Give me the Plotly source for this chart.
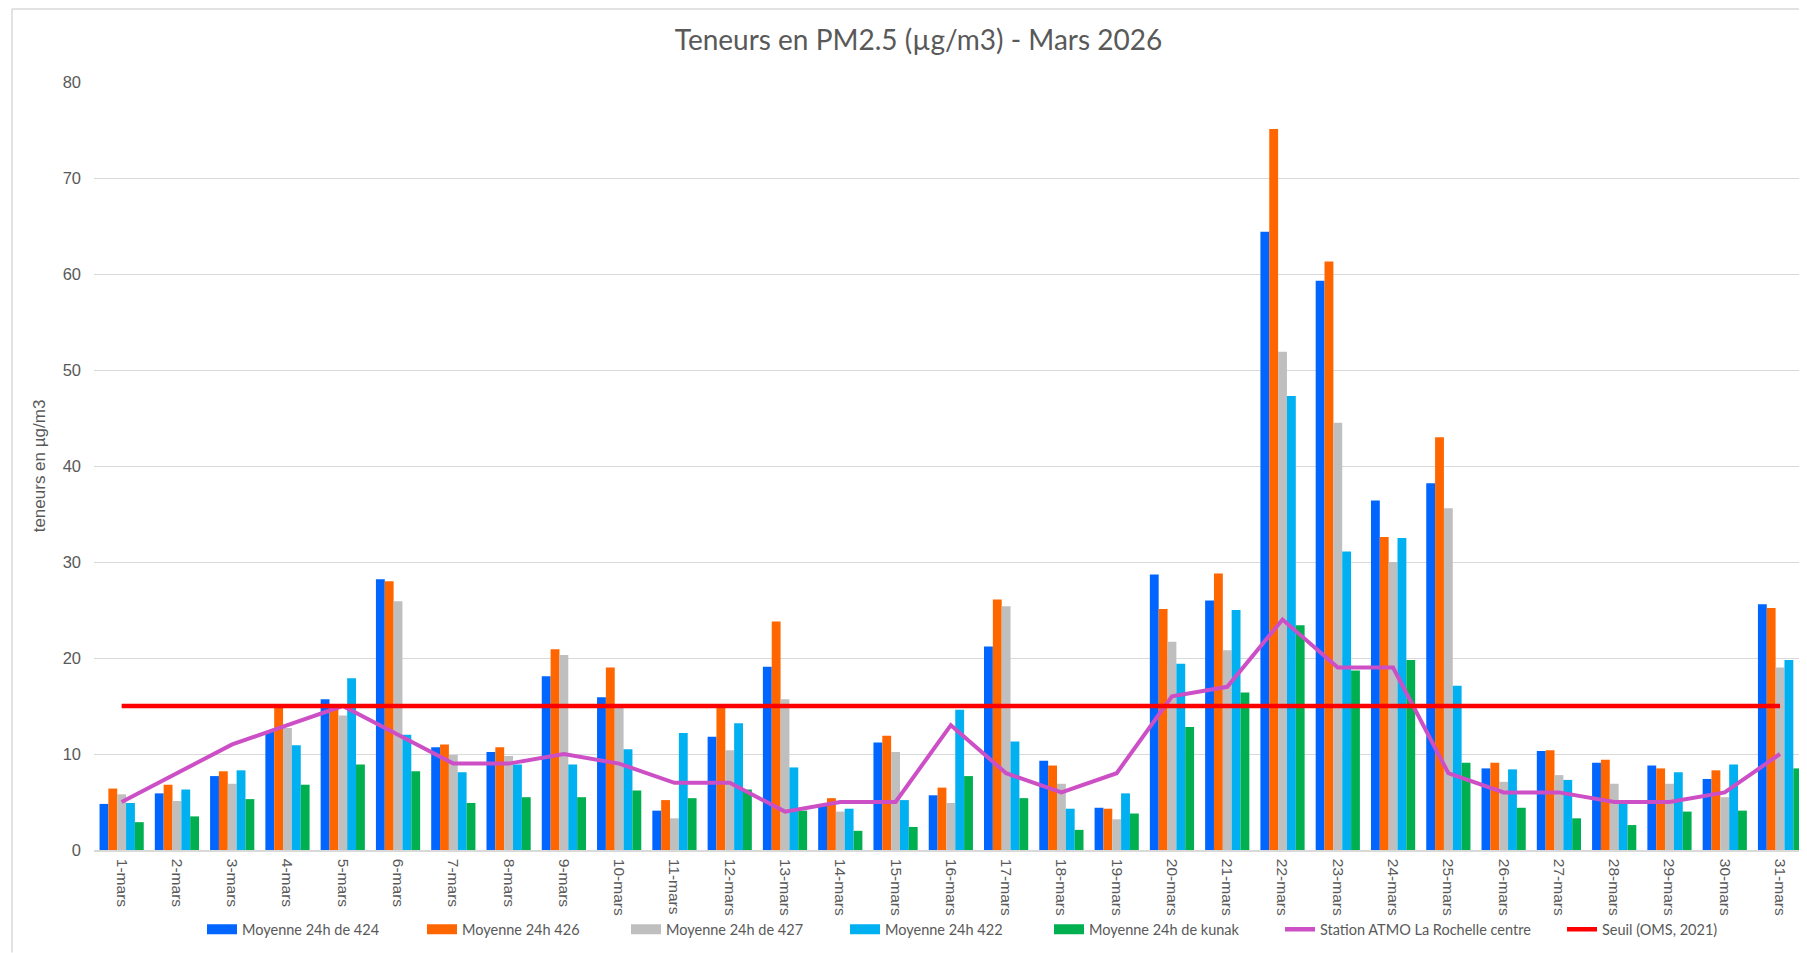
import plotly.graph_objects as go

days = [f"{i}-mars" for i in range(1, 32)]

moy_424 = [4.8, 5.9, 7.7, 12.4, 15.7, 28.2, 10.7, 10.2, 18.1, 15.9, 4.1, 11.8, 19.1, 4.7, 11.2, 5.7,
           21.2, 9.3, 4.4, 28.7, 26.0, 64.4, 59.3, 36.4, 38.2, 8.5, 10.3, 9.1, 8.8, 7.4, 25.6]
moy_426 = [6.4, 6.8, 8.2, 15.0, 14.8, 28.0, 11.0, 10.7, 20.9, 19.0, 5.2, 15.0, 23.8, 5.4, 11.9, 6.5,
           26.1, 8.8, 4.3, 25.1, 28.8, 75.1, 61.3, 32.6, 43.0, 9.1, 10.4, 9.4, 8.5, 8.3, 25.2]
moy_427 = [5.8, 5.1, 6.9, 12.7, 14.0, 25.9, 9.9, 9.8, 20.3, 15.0, 3.3, 10.4, 15.7, 4.0, 10.2, 4.9,
           25.4, 6.9, 3.2, 21.7, 20.8, 51.9, 44.5, 30.0, 35.6, 7.1, 7.8, 6.9, 6.9, 5.5, 19.0]
moy_422 = [4.9, 6.3, 8.3, 10.9, 17.9, 12.0, 8.1, 8.9, 8.9, 10.5, 12.2, 13.2, 8.6, 4.3, 5.2, 14.6,
           11.3, 4.3, 5.9, 19.4, 25.0, 47.3, 31.1, 32.5, 17.1, 8.4, 7.3, 5.2, 8.1, 8.9, 19.8]
moy_kunak = [2.9, 3.5, 5.3, 6.8, 8.9, 8.2, 4.9, 5.5, 5.5, 6.2, 5.4, 6.3, 4.1, 2.0, 2.4, 7.7,
             5.4, 2.1, 3.8, 12.8, 16.4, 23.4, 18.7, 19.8, 9.1, 4.4, 3.3, 2.6, 4.0, 4.1, 8.5]
atmo = [5, 8, 11, 13, 15, 12, 9, 9, 10, 9, 7, 7, 4, 5, 5, 13, 8, 6, 8, 16, 17, 24, 19, 19, 8, 6, 6,
        5, 5, 6, 10]
seuil = [15, 15, 15, 15, 15, 15, 15, 15, 15, 15, 15, 15, 15, 15, 15, 15, 15, 15, 15, 15, 15, 15,
         15, 15, 15, 15, 15, 15, 15, 15, 15]

y_ticks = [0, 10, 20, 30, 40, 50, 60, 70, 80]

bar_series = [
    ("Moyenne 24h de 424", moy_424, "#0066FF"),
    ("Moyenne 24h 426", moy_426, "#FF6600"),
    ("Moyenne 24h de 427", moy_427, "#BFBFBF"),
    ("Moyenne 24h 422", moy_422, "#00B0F0"),
    ("Moyenne 24h de kunak", moy_kunak, "#00B050"),
]
line_series = [
    ("Station ATMO La Rochelle centre", atmo, "#CC4FC6", 4),
    ("Seuil (OMS, 2021)", seuil, "#FF0000", 4.5),
]

# page has an 8px body margin; figure coordinates = page coordinates - 8
OFF = 8
W, H = 1799, 945
L, T = 94 - OFF, 82 - OFF
B = H - (850.5 - OFF)
R = 0
pw, ph = W - L - R, H - T - B
cat_px = 55.28
x_end = -0.5 + pw / cat_px


def px_x(p):  # page px -> paper
    return (p - OFF - L) / pw


def px_y(p):
    return (H - B - (p - OFF)) / ph


legend_box_x = [207, 427, 631, 850, 1054, 1285, 1567]
legend_font = dict(family="Lato, Open Sans, sans-serif", size=14.5, color="#595959")
names = [s[0] for s in bar_series] + [s[0] for s in line_series]
colors = [s[2] for s in bar_series] + [s[2] for s in line_series]

fig = go.Figure()
for name, vals, col in bar_series:
    fig.add_trace(go.Bar(x=days, y=vals, name=name, marker=dict(color=col, line=dict(width=0)),
                         showlegend=False))
for name, vals, col, w in line_series:
    fig.add_trace(go.Scatter(x=days, y=vals, name=name, mode="lines",
                             line=dict(color=col, width=w), showlegend=False))

# legend entries (rectangles for bars, lines for lines), each placed like the original
leg_layout = {}
for i, (name, col) in enumerate(zip(names, colors)):
    key = "legend" if i == 0 else f"legend{i+1}"
    lw = 12 if i < 5 else 4.5
    fig.add_trace(go.Scatter(x=[None], y=[None], name=name, mode="lines",
                             line=dict(color=col, width=lw), legend=key, showlegend=True,
                             hoverinfo="skip"))
    leg_layout[key] = dict(orientation="h", yanchor="middle", y=px_y(930), xanchor="left",
                           x=px_x(legend_box_x[i] - 5), font=legend_font,
                           bgcolor="rgba(0,0,0,0)", itemwidth=30)

fig.update_layout(
    width=W, height=H,
    margin=dict(l=L, r=R, t=T, b=B, autoexpand=False),
    paper_bgcolor="white", plot_bgcolor="white",
    barmode="group", bargap=0.2, bargroupgap=0.0,
    title=dict(text="Teneurs en PM2.5 (µg/m3) - Mars 2026", x=(797 * 1807 / 1568 - OFF) / W,
               xanchor="center", y=1 - (40 - OFF) / H, yanchor="middle",
               font=dict(family="Lato, Open Sans, sans-serif", size=28, color="#595959")),
    xaxis=dict(type="category", tickangle=90, showgrid=False, showline=True, linecolor="#D9D9D9",
               linewidth=1.5, ticks="", ticklabelstandoff=4,
               tickfont=dict(family="Liberation Sans, Arial", size=15.5, color="#595959"),
               range=[-0.5, x_end]),
    yaxis=dict(range=[0, 80], tickvals=y_ticks, showgrid=True, gridcolor="#D9D9D9", gridwidth=1.2,
               zeroline=False, showline=False, ticks="", ticklabelstandoff=12,
               tickfont=dict(family="Liberation Sans, Arial", size=16.5, color="#595959"),
               title=dict(text="teneurs en µg/m3", standoff=12,
                          font=dict(family="Liberation Sans, Arial", size=17, color="#595959"))),
    showlegend=True,
    **leg_layout,
    shapes=[
        dict(type="line", xref="paper", yref="paper", x0=px_x(12), x1=px_x(12), y0=px_y(9),
             y1=px_y(953), line=dict(color="#D9D9D9", width=1.5)),
        dict(type="line", xref="paper", yref="paper", x0=px_x(12), x1=px_x(1807), y0=px_y(9),
             y1=px_y(9), line=dict(color="#D9D9D9", width=1.5)),
    ],
)

fig.write_html("out.html")
